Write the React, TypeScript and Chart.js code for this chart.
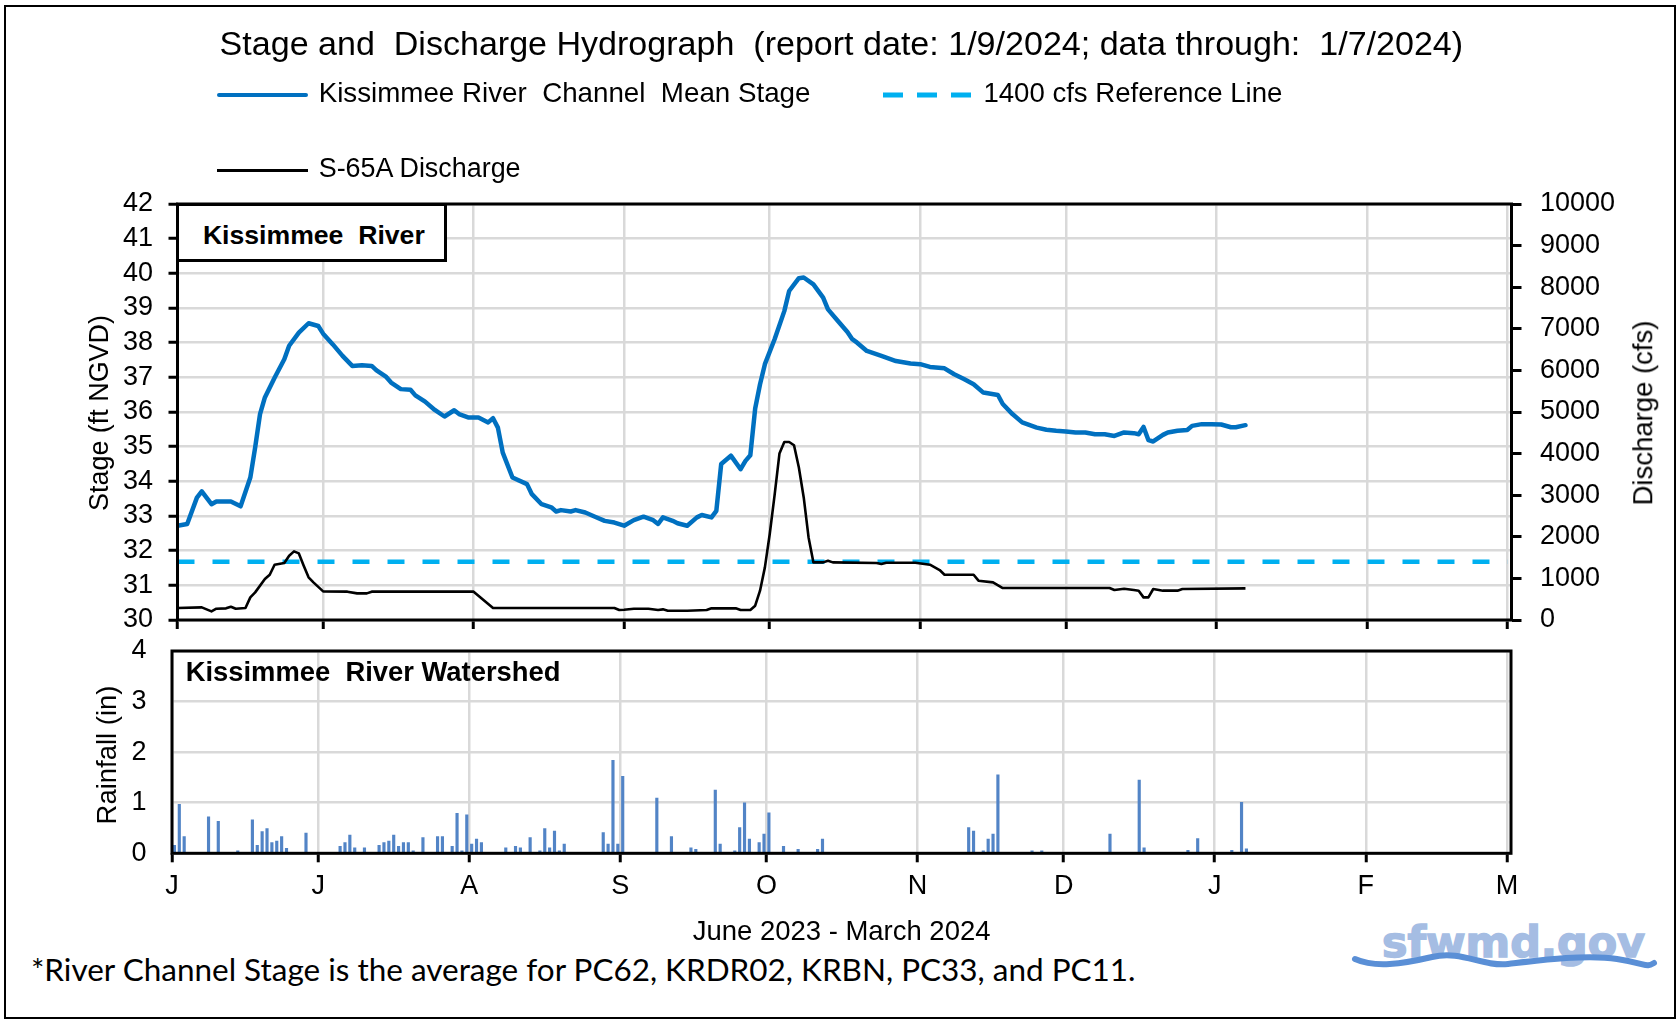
import React, { useEffect, useRef } from 'react';
import { Chart, registerables } from 'chart.js';

Chart.register(...registerables);

const ARIAL = '"Liberation Sans", Arial, Helvetica, sans-serif';
const CALIBRI_LIKE = 'Lato, "Open Sans", sans-serif';

// x values are day offsets from 1 June 2023
const monthStartDays = [0, 30, 61, 92, 122, 153, 183, 214, 245, 274];
const monthLetters = ['J', 'J', 'A', 'S', 'O', 'N', 'D', 'J', 'F', 'M'];
const xAxisMaxDay = 274.8;

// Kissimmee River channel mean stage (ft NGVD)
const stageDays = [0, 2, 4, 5, 7, 8, 11, 13, 15, 16, 17, 18, 20, 22, 23, 25, 27, 29, 30, 32, 34, 36, 38, 40, 41, 43, 44, 46, 48, 49, 51, 53, 55, 57, 58, 60, 62, 64, 65, 66, 67, 69, 72, 73, 75, 77, 78, 79, 81, 82, 84, 86, 88, 90, 92, 94, 96, 98, 99, 100, 102, 103, 105, 107, 108, 110, 111, 112, 114, 116, 117, 118, 119, 120, 121, 123, 125, 126, 128, 129, 131, 133, 134, 136, 138, 139, 140, 142, 145, 148, 151, 153, 155, 158, 160, 162, 164, 166, 169, 170, 172, 174, 177, 179, 181, 183, 185, 187, 189, 191, 193, 195, 197, 198, 199, 200, 201, 203, 204, 206, 208, 209, 211, 213, 215, 217, 218, 220];
const stageFt = [32.72, 32.77, 33.53, 33.71, 33.34, 33.42, 33.42, 33.28, 34.11, 34.98, 35.94, 36.42, 36.99, 37.52, 37.91, 38.29, 38.56, 38.48, 38.26, 37.95, 37.62, 37.33, 37.35, 37.33, 37.2, 37.01, 36.85, 36.66, 36.64, 36.48, 36.3, 36.06, 35.87, 36.05, 35.94, 35.84, 35.84, 35.7, 35.82, 35.55, 34.83, 34.11, 33.92, 33.63, 33.34, 33.25, 33.13, 33.17, 33.13, 33.17, 33.1, 32.98, 32.86, 32.81, 32.72, 32.88, 32.98, 32.88, 32.77, 32.96, 32.86, 32.79, 32.72, 32.96, 33.03, 32.96, 33.15, 34.5, 34.74, 34.35, 34.59, 34.75, 36.1, 36.8, 37.38, 38.1, 38.91, 39.49, 39.86, 39.88, 39.68, 39.3, 38.96, 38.63, 38.31, 38.1, 38.0, 37.76, 37.62, 37.47, 37.4, 37.38, 37.3, 37.26, 37.09, 36.95, 36.8, 36.56, 36.49, 36.23, 35.94, 35.7, 35.55, 35.49, 35.46, 35.44, 35.41, 35.41, 35.36, 35.36, 35.31, 35.41, 35.39, 35.36, 35.57, 35.19, 35.15, 35.34, 35.41, 35.46, 35.48, 35.6, 35.65, 35.65, 35.64, 35.56, 35.56, 35.62];

// S-65A discharge (cfs)
const dischargeDays = [0, 5, 7, 8, 10, 11, 12, 14, 15, 16, 18, 19, 20, 22, 23, 24, 25, 26, 27, 28, 30, 35, 37, 39, 40, 61, 65, 90, 91, 92, 94, 97, 99, 100, 101, 105, 109, 110, 115, 116, 118, 119, 120, 121, 122, 123, 124, 125, 126, 127, 128, 129, 130, 131, 133, 134, 135, 144, 145, 146, 152, 155, 157, 158, 164, 165, 168, 170, 192, 193, 195, 197, 198, 199, 200, 201, 203, 206, 207, 220];
const dischargeCfs = [288, 304, 208, 272, 280, 320, 272, 288, 544, 664, 985, 1089, 1329, 1369, 1545, 1649, 1601, 1305, 1025, 905, 689, 681, 640, 640, 681, 681, 288, 288, 240, 248, 272, 272, 240, 256, 224, 224, 240, 280, 280, 240, 240, 344, 705, 1265, 2066, 3000, 4000, 4280, 4280, 4200, 3667, 2946, 1985, 1385, 1385, 1425, 1385, 1369, 1345, 1377, 1377, 1329, 1201, 1089, 1089, 945, 905, 769, 769, 721, 753, 721, 705, 544, 544, 745, 705, 705, 745, 760];

// 1400 cfs reference line
const referenceDays = [0, 274];
const referenceCfs = [1400, 1400];

// Kissimmee River Watershed daily rainfall (in)
const rainDays = [0, 1, 2, 7, 9, 13, 16, 17, 18, 19, 20, 21, 22, 23, 27, 34, 35, 36, 37, 39, 42, 43, 44, 45, 46, 47, 48, 49, 51, 54, 55, 57, 58, 59, 60, 61, 62, 63, 68, 70, 71, 73, 75, 76, 77, 78, 79, 80, 88, 89, 90, 91, 92, 99, 102, 106, 107, 111, 112, 115, 116, 117, 118, 120, 121, 122, 125, 128, 132, 133, 163, 164, 166, 167, 168, 169, 176, 178, 192, 198, 199, 208, 210, 217, 219, 220];
const rainInches = [0.16, 0.97, 0.33, 0.72, 0.63, 0.05, 0.66, 0.16, 0.43, 0.49, 0.21, 0.24, 0.33, 0.1, 0.4, 0.14, 0.21, 0.36, 0.11, 0.11, 0.16, 0.21, 0.24, 0.36, 0.14, 0.21, 0.21, 0.05, 0.31, 0.33, 0.33, 0.14, 0.79, 0.05, 0.76, 0.18, 0.28, 0.21, 0.11, 0.14, 0.11, 0.31, 0.05, 0.49, 0.11, 0.44, 0.05, 0.18, 0.41, 0.18, 1.84, 0.18, 1.52, 1.09, 0.33, 0.11, 0.08, 1.25, 0.18, 0.05, 0.51, 1.0, 0.28, 0.21, 0.38, 0.8, 0.14, 0.08, 0.08, 0.28, 0.51, 0.44, 0.05, 0.28, 0.38, 1.55, 0.05, 0.05, 0.38, 1.45, 0.11, 0.06, 0.29, 0.06, 1.01, 0.09];

// axis ranges
const stageRange = [30, 42];
const dischargeRange = [0, 10000];
const rainRange = [0, 4];

const GRID = '#d9d9d9';

// canvas geometry
const TOP_H = 660;
const TOP_AREA_TOP = 204;
const TOP_AREA_BOTTOM = 620;
const BOT_TOP = 606;
const BOT_H = 310;

const framePlugin = {
  id: 'frame',
  afterDraw(chart: any) {
    const { ctx, chartArea: a } = chart;
    ctx.save();
    ctx.strokeStyle = '#000';
    ctx.lineWidth = 3;
    ctx.strokeRect(a.left, a.top, a.right - a.left, a.bottom - a.top);
    ctx.restore();
  },
};

const measureCtx: any = typeof document !== 'undefined' ? document.createElement('canvas').getContext('2d') : null;
function textWidth(text: string, font: string) {
  measureCtx.font = font;
  return measureCtx.measureText(text).width;
}

function Label(props: any) {
  const { text, x, cy, width, weight = 'normal', family = ARIAL, color = '#000', anchor = 'left', rotate = false, size, extra = {} } = props;
  let fontSize: number;
  let sx = 1;
  if (size) {
    fontSize = size;
    sx = width / textWidth(text, `${weight} ${size}px ${family}`);
  } else {
    fontSize = (100 * width) / textWidth(text, `${weight} 100px ${family}`);
  }
  const base: any = {
    position: 'absolute',
    whiteSpace: 'pre',
    lineHeight: 1,
    fontSize,
    fontWeight: weight,
    fontFamily: family,
    color,
    left: x,
    top: cy,
    ...extra,
  };
  if (rotate) {
    return <div style={{ ...base, transform: 'translate(-50%, -50%) rotate(-90deg)' }}>{text}</div>;
  }
  const tx = anchor === 'center' ? '-50%' : '0';
  return (
    <div style={{ ...base, transformOrigin: anchor === 'center' ? 'center center' : 'left center', transform: `translate(${tx}, -50%) scaleX(${sx})` }}>
      {text}
    </div>
  );
}

function monthTicks(scale: any) {
  scale.ticks = monthStartDays.map((v) => ({ value: v }));
}

const plainNumber = (v: any) => String(v);

export default function App() {
  const topRef = useRef<HTMLCanvasElement>(null);
  const botRef = useRef<HTMLCanvasElement>(null);

  useEffect(() => {
    Chart.defaults.font.family = ARIAL;
    Chart.defaults.color = '#000';

    const topChart = new Chart(topRef.current as HTMLCanvasElement, {
      type: 'line',
      data: {
        datasets: [
          {
            label: 'Kissimmee River Channel Mean Stage',
            data: stageDays.map((d, i) => ({ x: d, y: stageFt[i] })),
            yAxisID: 'y',
            borderColor: '#0070C0',
            borderWidth: 4.5,
            pointRadius: 0,
            tension: 0,
            borderJoinStyle: 'round',
            borderCapStyle: 'round',
          },
          {
            label: 'S-65A Discharge',
            data: dischargeDays.map((d, i) => ({ x: d, y: dischargeCfs[i] })),
            yAxisID: 'y2',
            borderColor: '#000000',
            borderWidth: 2.6,
            pointRadius: 0,
            tension: 0,
            borderJoinStyle: 'round',
          },
          {
            label: '1400 cfs Reference Line',
            data: referenceDays.map((d, i) => ({ x: d, y: referenceCfs[i] })),
            yAxisID: 'y2',
            borderColor: '#00B0F0',
            borderWidth: 4.5,
            borderDash: [17, 18],
            pointRadius: 0,
          },
        ] as any,
      },
      options: {
        responsive: false,
        animation: false,
        devicePixelRatio: 1,
        events: [],
        layout: { autoPadding: false, padding: { left: 0, right: 0, top: TOP_AREA_TOP, bottom: TOP_H - TOP_AREA_BOTTOM - 20 } },
        plugins: { legend: { display: false }, title: { display: false }, tooltip: { enabled: false } },
        scales: {
          x: {
            type: 'linear',
            min: 0,
            max: xAxisMaxDay,
            afterBuildTicks: monthTicks,
            afterFit: (s: any) => { s.height = 20; },
            grid: { color: GRID, lineWidth: 2.5, tickColor: '#000', tickWidth: 3, tickLength: 9 },
            border: { display: false },
            ticks: { display: false, autoSkip: false },
          },
          y: {
            type: 'linear',
            position: 'left',
            min: stageRange[0],
            max: stageRange[1],
            afterFit: (s: any) => { s.width = 177.5; },
            grid: { color: GRID, lineWidth: 2.5, tickColor: '#000', tickWidth: 3, tickLength: 9 },
            border: { display: false },
            ticks: { stepSize: 1, autoSkip: false, padding: 15.5, font: { size: 27, family: ARIAL }, color: '#000', callback: plainNumber },
          },
          y2: {
            type: 'linear',
            position: 'right',
            min: dischargeRange[0],
            max: dischargeRange[1],
            afterFit: (s: any) => { s.width = 1679 - 1511.5; },
            grid: { drawOnChartArea: false, color: GRID, tickColor: '#000', tickWidth: 3, tickLength: 10 },
            border: { display: false },
            ticks: { stepSize: 1000, autoSkip: false, padding: 18.5, font: { size: 27, family: ARIAL }, color: '#000', callback: plainNumber },
          },
        },
      } as any,
      plugins: [framePlugin],
    });

    const botChart = new Chart(botRef.current as HTMLCanvasElement, {
      type: 'bar',
      data: {
        datasets: [
          {
            label: 'Rainfall',
            data: rainDays.map((d, i) => ({ x: d + 0.5, y: rainInches[i] })),
            backgroundColor: '#5284C6',
            borderWidth: 0,
            barThickness: 2.5,
          },
        ] as any,
      },
      options: {
        responsive: false,
        animation: false,
        devicePixelRatio: 1,
        events: [],
        layout: { autoPadding: false, padding: { left: 0, right: 1679 - 1511, top: 651 - BOT_TOP, bottom: BOT_H - (853.3 - BOT_TOP) - 50 } },
        plugins: { legend: { display: false }, title: { display: false }, tooltip: { enabled: false } },
        scales: {
          x: {
            type: 'linear',
            offset: false,
            min: 0,
            max: xAxisMaxDay,
            afterBuildTicks: monthTicks,
            afterFit: (s: any) => { s.height = 50; },
            grid: { color: GRID, lineWidth: 2.5, tickColor: '#000', tickWidth: 3, tickLength: 9, offset: false },
            border: { display: false },
            ticks: {
              autoSkip: false,
              maxRotation: 0,
              padding: 8,
              font: { size: 27, family: ARIAL },
              color: '#000',
              callback: (v: any) => {
                const i = monthStartDays.indexOf(Number(v));
                return i >= 0 ? monthLetters[i] : '';
              },
            },
          },
          y: {
            type: 'linear',
            min: rainRange[0],
            max: rainRange[1],
            afterFit: (s: any) => { s.width = 172; },
            grid: { color: GRID, lineWidth: 2.5, drawTicks: false },
            border: { display: false },
            ticks: { stepSize: 1, autoSkip: false, padding: 25.6, font: { size: 27, family: ARIAL }, color: '#000', callback: plainNumber },
          },
        },
      } as any,
      plugins: [framePlugin],
    });

    return () => {
      topChart.destroy();
      botChart.destroy();
    };
  }, []);

  return (
    <div style={{ position: 'absolute', left: 0, top: 0, width: 1679, height: 1021, background: '#fff', overflow: 'hidden', fontFamily: ARIAL, color: '#000' }}>
      <div style={{ position: 'absolute', left: 4, top: 5, width: 1672, height: 1014, border: '2px solid #000', boxSizing: 'border-box' }} />
      <canvas ref={topRef} width={1679} height={TOP_H} style={{ position: 'absolute', left: 0, top: 0 }} />
      <canvas ref={botRef} width={1679} height={BOT_H} style={{ position: 'absolute', left: 0, top: BOT_TOP }} />

      <Label text="Stage and  Discharge Hydrograph  (report date: 1/9/2024; data through:  1/7/2024)" x={219.6} cy={43.3} width={1244} />

      {/* legend */}
      <div style={{ position: 'absolute', left: 217, top: 92.7, width: 91, height: 4.7, background: '#0070C0', borderRadius: 2 }} />
      <Label text="Kissimmee River  Channel  Mean Stage" x={318.7} cy={93.3} width={492} />
      <svg width={1679} height={200} style={{ position: 'absolute', left: 0, top: 0, pointerEvents: 'none' }}>
        <line x1={883} y1={95} x2={971} y2={95} stroke="#00B0F0" strokeWidth={5} strokeDasharray="20 14" />
      </svg>
      <Label text="1400 cfs Reference Line" x={983.4} cy={93.3} width={299} />
      <div style={{ position: 'absolute', left: 217, top: 169.2, width: 91, height: 3, background: '#000' }} />
      <Label text="S-65A Discharge" x={318.7} cy={167.5} width={203.5} />

      {/* panel labels */}
      <div style={{ position: 'absolute', left: 176, top: 202.5, width: 271, height: 59, border: '3px solid #000', background: '#fff', boxSizing: 'border-box' }} />
      <Label text="Kissimmee  River" x={202.9} cy={235} width={222} weight="bold" />
      <Label text="Kissimmee  River Watershed" x={185.7} cy={671.7} width={375} weight="bold" />

      {/* axis titles */}
      <Label text="Stage (ft NGVD)" x={98.5} cy={413} width={196} rotate />
      <Label text="Discharge (cfs)" x={1642.5} cy={412.5} width={185} rotate />
      <Label text="Rainfall (in)" x={107} cy={755} width={139} rotate />
      <Label text="June 2023 - March 2024" x={841.6} cy={931} width={298} anchor="center" />

      <Label text="*River Channel Stage is the average for PC62, KRDR02, KRBN, PC33, and PC11." x={31} cy={970} width={1106} family={CALIBRI_LIKE} />

      {/* sfwmd.gov logo */}
      <Label text="sfwmd.gov" x={1382} cy={943} width={263} size={42} weight="bold" family='"DejaVu Sans", sans-serif' color="#A5BDE3" extra={{ WebkitTextStroke: '1.5px #A5BDE3' }} />
      <svg width={1679} height={1021} style={{ position: 'absolute', left: 0, top: 0, pointerEvents: 'none' }}>
        <path d="M1355 959 C 1375 968, 1402 964, 1432 957 S 1482 967, 1508 964 S 1585 954, 1617 959 S 1645 968, 1654 963" fill="none" stroke="#5A8FD6" strokeWidth={6} strokeLinecap="round" />
      </svg>
    </div>
  );
}
